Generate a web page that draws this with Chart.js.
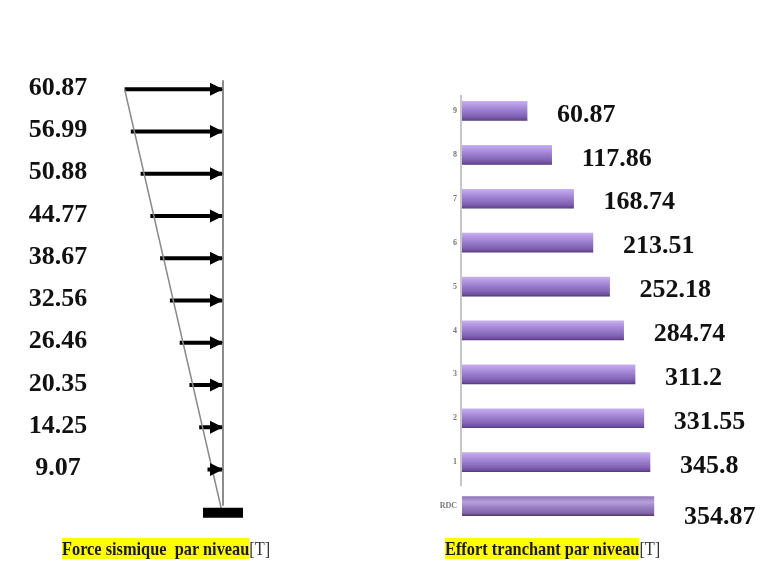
<!DOCTYPE html>
<html>
<head>
<meta charset="utf-8">
<script src="https://cdn.jsdelivr.net/npm/chart.js@4.4.0/dist/chart.umd.min.js"></script>
<style>
  html, body { margin: 0; padding: 0; background: #fff; }
  #wrap { position: relative; width: 776px; height: 567px; overflow: hidden; }
  #left-box  { position: absolute; left: 0;     top: 0; width: 300px; height: 567px; }
  #right-box { position: absolute; left: 400px; top: 0; width: 376px; height: 567px; }
  .caption {
    position: absolute; top: 538px;
    font-family: 'Liberation Serif', 'Times New Roman', serif;
    font-weight: bold; font-size: 19px; line-height: 22px;
    white-space: nowrap; color: #1a1a1a;
    transform-origin: left top; transform: scaleX(0.86);
  }
  .caption .hl { background: #ffff00; }
  .caption .unit { font-weight: normal; color: #333; }
</style>
</head>
<body>
<div id="wrap">
  <div id="left-box"><canvas id="force-chart"></canvas></div>
  <div id="right-box"><canvas id="shear-chart"></canvas></div>
  <div class="caption" style="left:62px">
    <span class="hl">Force sismique&nbsp; par niveau</span><span class="unit">[T]</span>
  </div>
  <div class="caption" style="left:445px">
    <span class="hl">Effort tranchant par niveau</span><span class="unit">[T]</span>
  </div>
</div>

<script>
// ── Data ──────────────────────────────────────
// left: seismic force applied at each floor (floor 1 = bottom)
const floors = [1, 2, 3, 4, 5, 6, 7, 8, 9, 10];
const forces = [9.07, 14.25, 20.35, 26.46, 32.56, 38.67, 44.77, 50.88, 56.99, 60.87];

// right: storey shear, top storey first
const storeys = ['9', '8', '7', '6', '5', '4', '3', '2', '1', 'RDC'];
const shear   = [60.87, 117.86, 168.74, 213.51, 252.18, 284.74, 311.2, 331.55, 345.8, 354.87];

const VALUE_FONT = 'bold 26px "Liberation Serif", "Times New Roman", serif';


// ── Left: force diagram ───────────────────────
const forcePlugin = {
  id: 'forceDecor',
  afterDatasetsDraw(chart) {
    const { ctx, scales: { x, y } } = chart;
    const x0 = x.getPixelForValue(0);
    const top = y.getPixelForValue(floors[floors.length - 1]) - 9;
    const ground = y.getPixelForValue(0);
    ctx.save();

    // mast
    ctx.strokeStyle = '#8c8c8c';
    ctx.lineWidth = 2;
    ctx.beginPath();
    ctx.moveTo(x0 + 1, top);
    ctx.lineTo(x0 + 1, ground - 6);
    ctx.stroke();

    // fixed support
    ctx.fillStyle = '#000';
    ctx.fillRect(x0 - 19, ground - 4, 40, 10);

    // arrow heads
    floors.forEach(f => {
      const py = y.getPixelForValue(f);
      ctx.beginPath();
      ctx.moveTo(x0 + 1, py);
      ctx.lineTo(x0 - 12, py - 6.5);
      ctx.lineTo(x0 - 12, py + 6.5);
      ctx.closePath();
      ctx.fill();
    });

    // force values
    ctx.font = VALUE_FONT;
    ctx.textAlign = 'center';
    ctx.textBaseline = 'middle';
    ctx.fillStyle = '#111';
    forces.forEach((v, i) => {
      ctx.fillText(v.toFixed(2), 58, y.getPixelForValue(floors[i]) - 1);
    });
    ctx.restore();
  }
};

const arrowSets = forces.map((f, i) => ({
  data: [{ x: f, y: floors[i] }, { x: 0, y: floors[i] }],
  showLine: true,
  borderColor: '#000',
  borderWidth: 4,
  pointRadius: 0,
}));

const envelope = {
  data: [{ x: forces[forces.length - 1], y: floors[floors.length - 1] }, { x: 0, y: 0 }],
  showLine: true,
  borderColor: '#8a8a8a',
  borderWidth: 1.5,
  pointRadius: 0,
};

new Chart(document.getElementById('force-chart'), {
  type: 'scatter',
  data: { datasets: [envelope, ...arrowSets] },
  options: {
    responsive: true,
    maintainAspectRatio: false,
    animation: false,
    layout: { padding: { top: 47, bottom: 13, left: 0, right: 0 } },
    plugins: { legend: { display: false }, tooltip: { enabled: false } },
    scales: {
      x: { type: 'linear', reverse: true, min: -48.75, max: 138.75, display: false },
      y: { type: 'linear', min: -1, max: 11, display: false }
    }
  },
  plugins: [forcePlugin]
});


// ── Right: storey shear bars ──────────────────
function barGradient(context) {
  const chart = context.chart;
  const yScale = chart.scales.y;
  if (!yScale || !chart.chartArea || context.dataIndex === undefined) return '#9a7bc9';
  const cy = yScale.getPixelForValue(context.dataIndex);
  if (!Number.isFinite(cy)) return '#9a7bc9';
  const g = chart.ctx.createLinearGradient(0, cy - 10, 0, cy + 10);
  if (storeys[context.dataIndex] === 'RDC') {
    g.addColorStop(0, '#8d72b6');
    g.addColorStop(0.3, '#b8a0dc');
    g.addColorStop(0.55, '#9a80c2');
    g.addColorStop(0.85, '#8366ab');
    g.addColorStop(1, '#4b3868');
  } else {
    g.addColorStop(0, '#c9b0f2');
    g.addColorStop(0.35, '#a68ad8');
    g.addColorStop(0.75, '#8363b6');
    g.addColorStop(0.92, '#6b4c99');
    g.addColorStop(1, '#4a3470');
  }
  return g;
}

const shearPlugin = {
  id: 'shearDecor',
  afterDatasetsDraw(chart) {
    const { ctx, chartArea, scales: { y } } = chart;
    ctx.save();

    // value axis line (stops above the RDC bar)
    ctx.strokeStyle = '#b5b5b5';
    ctx.lineWidth = 1.5;
    ctx.beginPath();
    ctx.moveTo(chartArea.left - 1, y.getPixelForValue(0) - 16);
    ctx.lineTo(chartArea.left - 1, y.getPixelForValue(storeys.length - 2) + 24);
    ctx.stroke();

    // value labels
    ctx.font = VALUE_FONT;
    ctx.textAlign = 'left';
    ctx.textBaseline = 'middle';
    ctx.fillStyle = '#111';
    chart.getDatasetMeta(0).data.forEach((bar, i) => {
      const dy = storeys[i] === 'RDC' ? 11 : 4;
      ctx.fillText(String(shear[i]), bar.x + 30, bar.y + dy);
    });
    ctx.restore();
  }
};

new Chart(document.getElementById('shear-chart'), {
  type: 'bar',
  data: {
    labels: storeys,
    datasets: [{
      data: shear,
      base: -90,
      backgroundColor: barGradient,
      borderWidth: 0,
      barThickness: 19,
    }]
  },
  options: {
    indexAxis: 'y',
    responsive: true,
    maintainAspectRatio: false,
    animation: false,
    layout: { padding: { top: 89, bottom: 39, left: 0, right: 0 } },
    plugins: { legend: { display: false }, tooltip: { enabled: false } },
    scales: {
      x: { type: 'linear', min: -90, max: 638, display: false },
      y: {
        afterFit(scale) { scale.width = 62; },
        grid: { display: false, drawTicks: false },
        border: { display: false },
        ticks: {
          padding: 5,
          color: '#777',
          font: { family: 'Liberation Serif', size: 8, weight: 'bold' }
        }
      }
    }
  },
  plugins: [shearPlugin]
});
</script>
</body>
</html>
